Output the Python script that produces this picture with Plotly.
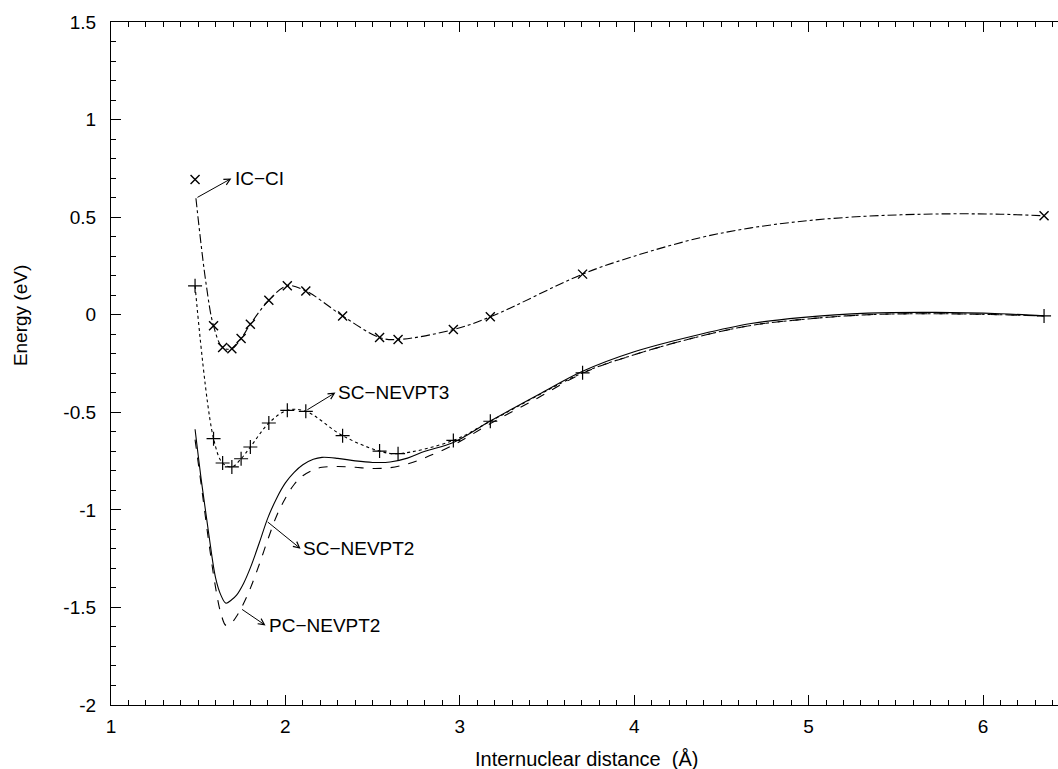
import plotly.graph_objects as go

# ---------------- data ----------------
# computed points (markers)
pts_x = [1.482, 1.588, 1.640, 1.693, 1.746, 1.799, 1.905, 2.011, 2.117,
         2.328, 2.540, 2.646, 2.963, 3.175, 3.704, 6.350]
ic_ci_pts_y = [0.693, -0.057, -0.168, -0.174, -0.122, -0.049, 0.074, 0.148, 0.122,
               -0.006, -0.117, -0.127, -0.076, -0.011, 0.208, 0.507]
nevpt3_pts_y = [0.148, -0.635, -0.760, -0.780, -0.738, -0.678, -0.555, -0.490, -0.495,
                -0.620, -0.699, -0.712, -0.644, -0.546, -0.298, -0.006]

# fitted curves
ic_ci_curve_x = [1.487, 1.545, 1.588, 1.640, 1.693, 1.746, 1.799, 1.905, 2.011, 2.117,
                 2.328, 2.540, 2.646, 2.963, 3.175, 3.704, 4.00, 4.38, 4.67, 4.95,
                 5.24, 5.53, 5.82, 6.10, 6.35]
ic_ci_curve_y = [0.597, 0.160, -0.057, -0.168, -0.174, -0.122, -0.049, 0.074, 0.148, 0.122,
                 -0.006, -0.117, -0.127, -0.076, -0.011, 0.208, 0.300, 0.395, 0.445, 0.478,
                 0.500, 0.512, 0.517, 0.515, 0.507]

nevpt3_curve_x = [1.482, 1.588, 1.640, 1.693, 1.746, 1.799, 1.905, 2.011, 2.117,
                  2.328, 2.540, 2.646, 2.963, 3.175, 3.704, 4.00, 4.38, 4.67, 4.955,
                  5.34, 5.73, 6.10, 6.35]
nevpt3_curve_y = [0.148, -0.635, -0.760, -0.780, -0.738, -0.678, -0.555, -0.490, -0.495,
                  -0.620, -0.699, -0.712, -0.644, -0.546, -0.298, -0.205, -0.110, -0.055,
                  -0.025, 0.000, 0.005, 0.000, -0.006]

nevpt2_x = [1.482, 1.52, 1.56, 1.60, 1.63, 1.659, 1.69, 1.72, 1.76, 1.80, 1.85, 1.90,
            1.95, 2.00, 2.05, 2.10, 2.16, 2.21, 2.30, 2.40, 2.50, 2.60, 2.70, 2.80,
            2.963, 3.175, 3.45, 3.704, 4.00, 4.38, 4.67, 4.955, 5.34, 5.73, 6.10, 6.35]
sc_nevpt2_y = [-0.587, -0.863, -1.120, -1.350, -1.437, -1.478, -1.462, -1.437, -1.377,
               -1.295, -1.170, -1.040, -0.940, -0.862, -0.808, -0.769, -0.741, -0.731,
               -0.736, -0.749, -0.757, -0.755, -0.735, -0.700, -0.655, -0.545, -0.410,
               -0.290, -0.190, -0.100, -0.045, -0.015, 0.008, 0.012, 0.005, -0.006]
pc_nevpt2_y = [-0.640, -0.890, -1.160, -1.400, -1.530, -1.592, -1.580, -1.545, -1.480,
               -1.400, -1.280, -1.150, -1.030, -0.940, -0.870, -0.825, -0.795, -0.782,
               -0.778, -0.782, -0.788, -0.784, -0.765, -0.733, -0.668, -0.558, -0.425,
               -0.300, -0.205, -0.110, -0.055, -0.025, 0.000, 0.005, 0.000, -0.006]

# tick labels
y_tick_vals = [-2, -1.5, -1, -0.5, 0, 0.5, 1, 1.5]
y_tick_text = ["-2", "-1.5", "-1", "-0.5", "0", "0.5", "1", "1.5"]
x_tick_vals = [1, 2, 3, 4, 5, 6]
x_tick_text = ["1", "2", "3", "4", "5", "6"]

# labels: (text, text_x, text_y, head_x, head_y, tail_x, tail_y)
labels = [
    ("IC\u2212CI", 1.700, 0.700, 1.690, 0.698, 1.487, 0.597),
    ("SC\u2212NEVPT3", 2.292, -0.398, 2.287, -0.399, 2.117, -0.492),
    ("SC\u2212NEVPT2", 2.092, -1.200, 2.087, -1.199, 1.890, -1.056),
    ("PC\u2212NEVPT2", 1.892, -1.592, 1.886, -1.592, 1.743, -1.505),
]

FONT = "Liberation Sans, Arial, Helvetica, sans-serif"

fig = go.Figure()

line_common = dict(color="black", width=1.1, shape="spline", smoothing=1.0)

fig.add_trace(go.Scatter(x=ic_ci_curve_x, y=ic_ci_curve_y, mode="lines",
                         line=dict(dash="dashdot", **line_common), showlegend=False))
fig.add_trace(go.Scatter(x=nevpt3_curve_x, y=nevpt3_curve_y, mode="lines",
                         line=dict(dash="dot", **line_common), showlegend=False))
fig.add_trace(go.Scatter(x=nevpt2_x, y=sc_nevpt2_y, mode="lines",
                         line=dict(dash="solid", **line_common), showlegend=False))
fig.add_trace(go.Scatter(x=nevpt2_x, y=pc_nevpt2_y, mode="lines",
                         line=dict(dash="dash", **line_common), showlegend=False))

fig.add_trace(go.Scatter(x=pts_x, y=ic_ci_pts_y, mode="markers",
                         marker=dict(symbol="x-thin", size=9, color="black",
                                     line=dict(color="black", width=1.4)),
                         showlegend=False))
fig.add_trace(go.Scatter(x=pts_x, y=nevpt3_pts_y, mode="markers",
                         marker=dict(symbol="cross-thin", size=10, color="black",
                                     line=dict(color="black", width=1.2)),
                         showlegend=False))

annotations = []
for text, tx, ty, hx, hy, sx, sy in labels:
    annotations.append(dict(x=hx, y=hy, ax=sx, ay=sy, xref="x", yref="y",
                            axref="x", ayref="y", text="", showarrow=True,
                            arrowhead=5, arrowsize=1.2, arrowwidth=1,
                            arrowcolor="black", standoff=0, startstandoff=0))
    annotations.append(dict(x=tx, y=ty, xref="x", yref="y", text=text,
                            showarrow=False, xanchor="left", yanchor="middle",
                            font=dict(family=FONT, size=19, color="black")))

# axis titles
annotations.append(dict(x=0.502, y=-0.06, xref="paper", yref="paper",
                        text="Internuclear distance  (\u00c5)", showarrow=False,
                        xanchor="center", yanchor="top",
                        font=dict(family=FONT, size=20, color="black")))
annotations.append(dict(x=-0.096, y=0.5695, xref="paper", yref="paper",
                        text="Energy (eV)", showarrow=False, textangle=-90,
                        xanchor="center", yanchor="middle",
                        font=dict(family=FONT, size=19, color="black")))

fig.update_layout(
    width=1058, height=769,
    margin=dict(l=111, r=0, t=22, b=64),
    paper_bgcolor="white", plot_bgcolor="white",
    font=dict(family=FONT, size=19, color="black"),
    annotations=annotations,
    xaxis=dict(range=[1, 6.43], showgrid=False, zeroline=False,
               showline=True, linecolor="black", linewidth=1.2,
               mirror="allticks", ticks="inside", ticklen=10, tickwidth=1.2,
               tickcolor="black", tickvals=x_tick_vals, ticktext=x_tick_text,
               ticklabelstandoff=4,
               minor=dict(ticks="inside", ticklen=5, tickwidth=1.2,
                          tickcolor="black", dtick=0.1, tick0=1, showgrid=False)),
    yaxis=dict(range=[-2, 1.5], showgrid=False, zeroline=False,
               showline=True, linecolor="black", linewidth=1.2,
               mirror=False, ticks="inside", ticklen=10, tickwidth=1.2,
               tickcolor="black", tickvals=y_tick_vals, ticktext=y_tick_text,
               ticklabelstandoff=10,
               minor=dict(ticks="inside", ticklen=5, tickwidth=1.2,
                          tickcolor="black", dtick=0.1, tick0=0, showgrid=False)),
)

fig.write_html("out.html")
